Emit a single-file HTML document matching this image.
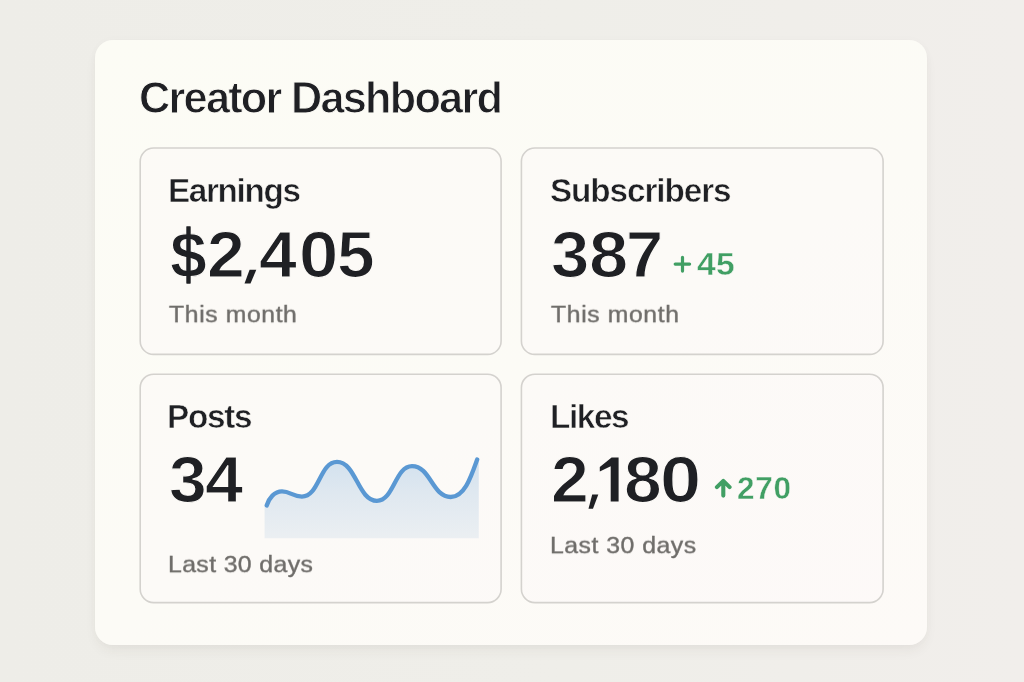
<!DOCTYPE html>
<html>
<head>
<meta charset="utf-8">
<title>Creator Dashboard</title>
<style>
  html, body { margin: 0; padding: 0; }
  body {
    width: 1024px; height: 682px; overflow: hidden; position: relative;
    background: linear-gradient(to right, #eeede8 0%, #efeee9 55%, #f1eeeb 100%);
    font-family: "Liberation Sans", sans-serif;
  }
  .panel {
    position: absolute; left: 95.3px; top: 40.4px; width: 832px; height: 604.2px;
    border-radius: 18px; background: linear-gradient(150deg, #fcfcf5 0%, #fcfbf6 55%, #fdfaf7 100%);
    box-shadow: 0 7px 14px -3px rgba(70,55,40,0.075), 0 0 10px rgba(70,55,40,0.02);
  }
  .card {
    position: absolute; box-sizing: border-box;
    border-radius: 14px; background: rgba(253,249,248,0.45);
  }
  .t { filter: blur(0.35px); will-change: transform; position: absolute; white-space: nowrap; line-height: 1; transform-origin: 0 0; color: #1f2024; }
  .med { font-weight: bold; -webkit-text-stroke: 0.55px #fcfaf6; }
  .ttl { font-weight: bold; -webkit-text-stroke: 0.9px #fcfbf5; }
  .big { font-weight: bold; -webkit-text-stroke: 1.2px #fcfaf7; }
  .sub { color: #6f6d6a; -webkit-text-stroke: 0.4px #6f6d6a; }
  .grn { color: #419f64; font-weight: bold; -webkit-text-stroke: 0.4px #fcfaf7; }
</style>
</head>
<body>
  <div class="panel"></div>

  <div class="card" style="left:139.5px; top:147.2px; width:362.3px; height:208px;"></div>
  <div class="card" style="left:520.5px; top:147.2px; width:363.3px; height:208px;"></div>
  <div class="card" style="left:139.5px; top:373.4px; width:362.3px; height:230px;"></div>
  <div class="card" style="left:520.5px; top:373.4px; width:363.3px; height:230px;"></div>

  <svg id="borders" style="filter: blur(0.3px); position:absolute; left:0; top:0;" width="1024" height="682" viewBox="0 0 1024 682">
    <g fill="none" stroke="#d4d2ce" stroke-width="1.6">
      <rect x="140.2" y="148.0" width="360.9" height="206.4" rx="13.5"/>
      <rect x="521.4" y="148.0" width="361.7" height="206.4" rx="13.5"/>
      <rect x="140.2" y="374.2" width="360.9" height="228.4" rx="13.5"/>
      <rect x="521.4" y="374.2" width="361.7" height="228.4" rx="13.5"/>
    </g>
  </svg>
  <div id="title" class="t ttl" style="left: 139px; top: 76px; font-size: 43.25px; letter-spacing: -1.74px; transform: scaleY(1.04);">Creator Dashboard</div>

  <div id="l1" class="t med" style="left: 167.5px; top: 174px; font-size: 33.25px; letter-spacing: -1.33px;">Earnings</div>
  <div id="v1g0" class="t big" style="left: 169.6px; top: 223.05px; font-size: 64.75px; transform: scaleX(1.0232);">$</div>
  <div id="v1g1" class="t big" style="left: 207.49px; top: 223.05px; font-size: 64.75px; transform: scaleX(1.0491);">2</div>
  <div class="t big" style="left: 242px; top: 223.05px; font-size: 64.75px; opacity: 0;">,</div>
  <div id="v1g3" class="t big" style="left: 259.29px; top: 223.05px; font-size: 64.75px; transform: scaleX(1.0530);">4</div>
  <div id="v1g4" class="t big" style="left: 299.02px; top: 223.05px; font-size: 64.75px; transform: scaleX(1.0916);">0</div>
  <div id="v1g5" class="t big" style="left: 337.49px; top: 223.05px; font-size: 64.75px; transform: scaleX(1.0479);">5</div>
  <div id="s1" class="t sub" style="left: 169px; top: 304px; font-size: 23px; letter-spacing: 0.51px; transform: scale(1.08, 0.955);">This month</div>

  <div id="l2" class="t med" style="left: 550px; top: 174px; font-size: 33.25px; letter-spacing: -1.06px;">Subscribers</div>
  <div id="v2g0" class="t big" style="left: 550.92px; top: 222.65px; font-size: 64.75px; transform: scaleX(1.0646);">3</div>
  <div id="v2g1" class="t big" style="left: 588.61px; top: 222.65px; font-size: 64.75px; transform: scaleX(1.0886);">8</div>
  <div id="v2g2" class="t big" style="left: 625.5px; top: 222.65px; font-size: 64.75px; transform: scaleX(1.0327);">7</div>
  <div class="t grn" style="left: 673px; top: 248.75px; font-size: 31.5px; opacity: 0;">+</div>
  <div id="d2" class="t grn" style="left: 696.5px; top: 248.75px; font-size: 31.5px; letter-spacing: 0.28px; transform: scaleX(1.07);">45</div>
  <div id="s2" class="t sub" style="left: 550.75px; top: 304px; font-size: 23px; letter-spacing: 0.52px; transform: scale(1.08, 0.955);">This month</div>

  <div id="l3" class="t med" style="left: 166.75px; top: 400px; font-size: 33.25px; letter-spacing: -1.25px;">Posts</div>
  <div id="v3g0" class="t big" style="left: 169.02px; top: 448.05px; font-size: 64.75px; transform: scaleX(1.0482);">3</div>
  <div id="v3g1" class="t big" style="left: 205.32px; top: 448.05px; font-size: 64.75px; transform: scaleX(1.0603);">4</div>
  <div id="s3" class="t sub" style="left: 167.5px; top: 553.5px; font-size: 23px; letter-spacing: 0.34px; transform: scale(1.08, 0.955);">Last 30 days</div>

  <svg id="chart" style="filter: blur(0.35px); position:absolute; left:255px; top:445px;" width="240" height="105" viewBox="255 445 240 105">
    <defs>
      <linearGradient id="fg" x1="0" y1="0" x2="0" y2="1">
        <stop offset="0" stop-color="#d2e1ee"/>
        <stop offset="0.42" stop-color="#dfe8f0"/>
        <stop offset="1" stop-color="#ebeff2"/>
      </linearGradient>
    </defs>
    <path id="area" fill="url(#fg)" d="M264.6 538.3 L264.6 507 L266.7 505.5 C269 498 274.5 491.4 282 491.4 C290.5 491.4 292.5 496.6 301.9 496.6 C319.4 496.6 319.5 461.9 337 461.9 C356 461.9 357.9 500.8 376.9 500.8 C393.9 500.8 395 466.1 412 466.1 C430.5 466.1 432.2 497 450.7 497 C464.5 497 471 477 477.2 459.5 L478.8 459.5 L478.8 538.3 Z"/>
    <path id="line" fill="none" stroke="#5a98d3" stroke-width="4.3" stroke-linecap="round" stroke-linejoin="round" d="M266.7 505.5 C269 498 274.5 491.4 282 491.4 C290.5 491.4 292.5 496.6 301.9 496.6 C319.4 496.6 319.5 461.9 337 461.9 C356 461.9 357.9 500.8 376.9 500.8 C393.9 500.8 395 466.1 412 466.1 C430.5 466.1 432.2 497 450.7 497 C464.5 497 471 477 477.2 459.5"/>
  </svg>

  <div id="l4" class="t med" style="left: 549.75px; top: 399.5px; font-size: 33.25px; letter-spacing: -1.37px;">Likes</div>
  <div id="v4g0" class="t big" style="left: 551.01px; top: 448.05px; font-size: 64.75px; transform: scaleX(1.0491);">2</div>
  <div class="t big" style="left: 586px; top: 448.05px; font-size: 64.75px; opacity: 0;">,</div>
  <div class="t big" style="left: 597px; top: 448.05px; font-size: 64.75px; opacity: 0;">1</div>
  <div id="v4g3" class="t big" style="left: 624.16px; top: 448.05px; font-size: 64.75px; transform: scaleX(1.0482);">8</div>
  <div id="v4g4" class="t big" style="left: 660.09px; top: 448.05px; font-size: 64.75px; transform: scaleX(1.1425);">0</div>
  <div id="d4" class="t grn" style="left: 737px; top: 472.75px; font-size: 31.5px; letter-spacing: 0.71px;">270</div>
  <div id="s4" class="t sub" style="left: 550px; top: 535px; font-size: 23px; letter-spacing: 0.45px; transform: scale(1.08, 0.955);">Last 30 days</div>
  <svg id="shapes" style="filter: blur(0.35px); position:absolute; left:0; top:0;" width="1024" height="682" viewBox="0 0 1024 682">
    <g fill="#1f2024">
      <rect id="dbar" x="186.3" y="226.2" width="4.4" height="57.5" rx="0.6"/>
      <polygon id="c1" points="249.6,269.8 256.3,269.8 250.5,283.6 244.5,283.6"/>
      <polygon id="c4" points="592.2,494.6 598.3,494.6 593.0,508.8 588.5,508.8"/>
      <polygon id="one" points="618.6,457.6 611.6,457.6 599.8,466.9 599.8,471.6 610.7,466.2 610.7,501.4 618.6,501.4"/>
    </g>
    <g fill="none" stroke="#419f64" stroke-linecap="round" stroke-linejoin="round">
      <path id="plus" stroke-width="3.2" d="M675.2 264.1 H689.6 M682.5 257.3 V271.1"/>
      <path id="arr" stroke-width="4.1" d="M723.3 495.6 V481.4 M716.9 487.1 L723.3 480.9 L729.6 487.1"/>
    </g>
  </svg>
</body>
</html>
